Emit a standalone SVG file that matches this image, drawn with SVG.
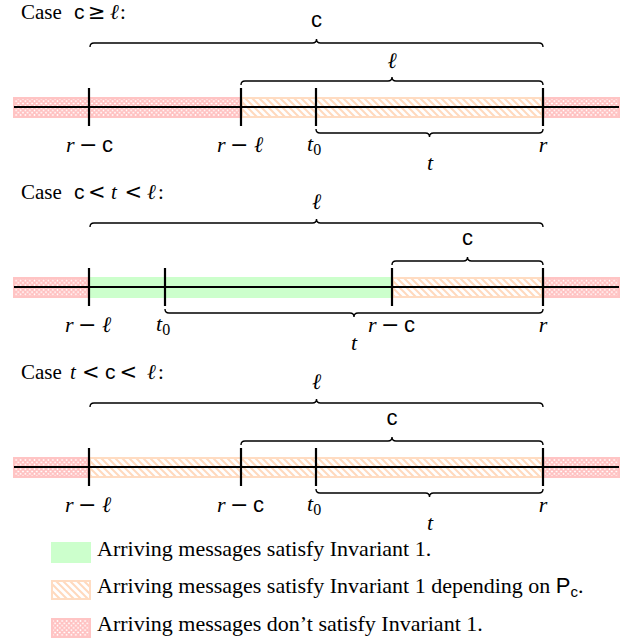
<svg xmlns="http://www.w3.org/2000/svg" width="634" height="644" viewBox="0 0 634 644">
<style>
.tx{font-family:"Liberation Serif","DejaVu Serif",serif;font-size:22px;fill:#000}
.ti{font-size:21px}
.m{font-style:italic}
.sf{font-family:"Liberation Sans","DejaVu Sans",sans-serif;font-style:normal}
.mn{font-family:"DejaVu Sans",sans-serif;font-style:normal}
.mid{text-anchor:middle}
.axis{stroke:#000;stroke-width:2;fill:none}
.tick{stroke:#000;stroke-width:2.2;fill:none}
.brace{fill:none;stroke:#000;stroke-width:1.4}
.red{fill:url(#xh);stroke:#ffc4c4;stroke-width:2}
.org{fill:url(#nw);stroke:#ffdcc2;stroke-width:2}
.grn{fill:#ccffcc;stroke:none}
</style>
<defs>
<pattern id="xh" patternUnits="userSpaceOnUse" width="4.6" height="4.6">
<rect width="4.6" height="4.6" fill="#fff"/>
<path d="M0,0 L4.6,4.6 M4.6,0 L0,4.6" stroke="#ffc0c0" stroke-width="1.6"/>
</pattern>
<pattern id="nw" patternUnits="userSpaceOnUse" width="7" height="7">
<rect width="7" height="7" fill="#fff"/>
<path d="M0,0 L7,7 M-1,6 L1,8 M6,-1 L8,1" stroke="#ffd9bd" stroke-width="2"/>
</pattern>
</defs>
<rect width="634" height="644" fill="#fff"/>

<!-- Case 1 -->
<g id="case1">
<text class="tx ti" y="19"><tspan x="21">Case</tspan><tspan class="sf" x="74">c</tspan><tspan class="mn" x="88">≥</tspan><tspan class="m" x="110">ℓ</tspan><tspan x="120">:</tspan></text>
<g id="band1">
<rect class="red" x="14" y="98" width="226" height="19"/>
<rect class="org" x="242" y="98" width="300" height="19"/>
<rect class="red" x="544" y="98" width="75" height="19"/>
</g>
<line class="axis" x1="14" y1="107" x2="619" y2="107"/>
<g id="ticks1">
<line class="tick" x1="89" y1="88" x2="89" y2="126"/>
<line class="tick" x1="241" y1="88" x2="241" y2="126"/>
<line class="tick" x1="316" y1="88" x2="316" y2="126"/>
<line class="tick" x1="543" y1="88" x2="543" y2="126"/>
</g>
<g id="labels1">
<text class="tx" y="152"><tspan class="m" x="66">r</tspan><tspan class="mn" x="79">−</tspan><tspan class="sf" x="102">c</tspan></text>
<text class="tx" y="152"><tspan class="m" x="217">r</tspan><tspan class="mn" x="230">−</tspan><tspan class="m" x="254">ℓ</tspan></text>
<text class="tx" y="151"><tspan class="m" x="307">t</tspan><tspan font-size="16" dy="4">0</tspan></text>
<text class="tx mid m" x="543" y="152">r</text>
<text class="tx mid sf" x="316.5" y="27">c</text>
<text class="tx mid m" x="392" y="68">ℓ</text>
<text class="tx mid m" x="430" y="170">t</text>
</g>
</g>

<!-- Case 2 -->
<g id="case2">
<text class="tx ti" y="199"><tspan x="21">Case</tspan><tspan class="sf" x="74">c</tspan><tspan class="mn" x="88">&lt;</tspan><tspan class="m" x="111">t</tspan><tspan class="mn" x="124.5">&lt;</tspan><tspan class="m" x="147">ℓ</tspan><tspan x="158">:</tspan></text>
<g id="band2">
<rect class="red" x="14" y="278" width="74" height="19"/>
<rect class="grn" x="89" y="277" width="303" height="21"/>
<rect class="org" x="393" y="278" width="149" height="19"/>
<rect class="red" x="544" y="278" width="75" height="19"/>
</g>
<line class="axis" x1="14" y1="287" x2="619" y2="287"/>
<g id="ticks2">
<line class="tick" x1="89" y1="268" x2="89" y2="306"/>
<line class="tick" x1="165" y1="268" x2="165" y2="306"/>
<line class="tick" x1="392" y1="268" x2="392" y2="306"/>
<line class="tick" x1="543" y1="268" x2="543" y2="306"/>
</g>
<g id="labels2">
<text class="tx" y="332"><tspan class="m" x="65">r</tspan><tspan class="mn" x="78">−</tspan><tspan class="m" x="102">ℓ</tspan></text>
<text class="tx" y="331"><tspan class="m" x="156">t</tspan><tspan font-size="16" dy="4">0</tspan></text>
<text class="tx" y="332"><tspan class="m" x="368">r</tspan><tspan class="mn" x="381">−</tspan><tspan class="sf" x="404">c</tspan></text>
<text class="tx mid m" x="543" y="332">r</text>
<text class="tx mid m" x="316.5" y="209">ℓ</text>
<text class="tx mid sf" x="467.5" y="245">c</text>
<text class="tx mid m" x="354" y="350">t</text>
</g>
</g>

<!-- Case 3 -->
<g id="case3">
<text class="tx ti" y="379"><tspan x="21">Case</tspan><tspan class="m" x="70">t</tspan><tspan class="mn" x="82">&lt;</tspan><tspan class="sf" x="105">c</tspan><tspan class="mn" x="119.5">&lt;</tspan><tspan class="m" x="147">ℓ</tspan><tspan x="158">:</tspan></text>
<g id="band3">
<rect class="red" x="14" y="458" width="74" height="19"/>
<rect class="org" x="90" y="458" width="452" height="19"/>
<rect class="red" x="544" y="458" width="75" height="19"/>
</g>
<line class="axis" x1="14" y1="467" x2="619" y2="467"/>
<g id="ticks3">
<line class="tick" x1="89" y1="448" x2="89" y2="486"/>
<line class="tick" x1="241" y1="448" x2="241" y2="486"/>
<line class="tick" x1="316" y1="448" x2="316" y2="486"/>
<line class="tick" x1="543" y1="448" x2="543" y2="486"/>
</g>
<g id="labels3">
<text class="tx" y="512"><tspan class="m" x="65">r</tspan><tspan class="mn" x="78">−</tspan><tspan class="m" x="102">ℓ</tspan></text>
<text class="tx" y="512"><tspan class="m" x="217">r</tspan><tspan class="mn" x="230">−</tspan><tspan class="sf" x="253">c</tspan></text>
<text class="tx" y="511"><tspan class="m" x="307">t</tspan><tspan font-size="16" dy="4">0</tspan></text>
<text class="tx mid m" x="543" y="512">r</text>
<text class="tx mid m" x="316.5" y="389">ℓ</text>
<text class="tx mid sf" x="392" y="425">c</text>
<text class="tx mid m" x="430" y="530">t</text>
</g>
</g>

<!-- Braces -->
<g id="connectors">
<path class="brace" d="M90,47 Q90,43 94,43 L312.5,43 Q316.5,43 316.5,39 Q316.5,43 320.5,43 L539,43 Q543,43 543,47"/>
<path class="brace" d="M241,85 Q241,81 245,81 L388,81 Q392,81 392,77 Q392,81 396,81 L539,81 Q543,81 543,85"/>
<path class="brace" d="M316,129 Q316,133 320,133 L425.5,133 Q429.5,133 429.5,137 Q429.5,133 433.5,133 L539,133 Q543,133 543,129"/>
<path class="brace" d="M90,227 Q90,223 94,223 L312.5,223 Q316.5,223 316.5,219 Q316.5,223 320.5,223 L539,223 Q543,223 543,227"/>
<path class="brace" d="M392,265 Q392,261 396,261 L463.5,261 Q467.5,261 467.5,257 Q467.5,261 471.5,261 L539,261 Q543,261 543,265"/>
<path class="brace" d="M165,309 Q165,313 169,313 L350,313 Q354,313 354,317 Q354,313 358,313 L539,313 Q543,313 543,309"/>
<path class="brace" d="M90,407 Q90,403 94,403 L312.5,403 Q316.5,403 316.5,399 Q316.5,403 320.5,403 L539,403 Q543,403 543,407"/>
<path class="brace" d="M241,445 Q241,441 245,441 L388,441 Q392,441 392,437 Q392,441 396,441 L539,441 Q543,441 543,445"/>
<path class="brace" d="M316,489 Q316,493 320,493 L425.5,493 Q429.5,493 429.5,497 Q429.5,493 433.5,493 L539,493 Q543,493 543,489"/>
</g>

<!-- Legend -->
<g id="legend-green">
<rect class="grn" x="51" y="542" width="40" height="21"/>
<text class="tx" x="97" y="556">Arriving messages satisfy Invariant 1.</text>
</g>
<g id="legend-orange">
<rect class="org" x="52" y="581" width="38" height="18"/>
<text class="tx" x="97" y="593">Arriving messages satisfy Invariant 1 depending on <tspan class="sf">P</tspan><tspan class="sf" font-size="15" dy="4">c</tspan><tspan dy="-4">.</tspan></text>
</g>
<g id="legend-red">
<rect class="red" x="52" y="619" width="38" height="18"/>
<text class="tx" x="97" y="631">Arriving messages don’t satisfy Invariant 1.</text>
</g>
</svg>
